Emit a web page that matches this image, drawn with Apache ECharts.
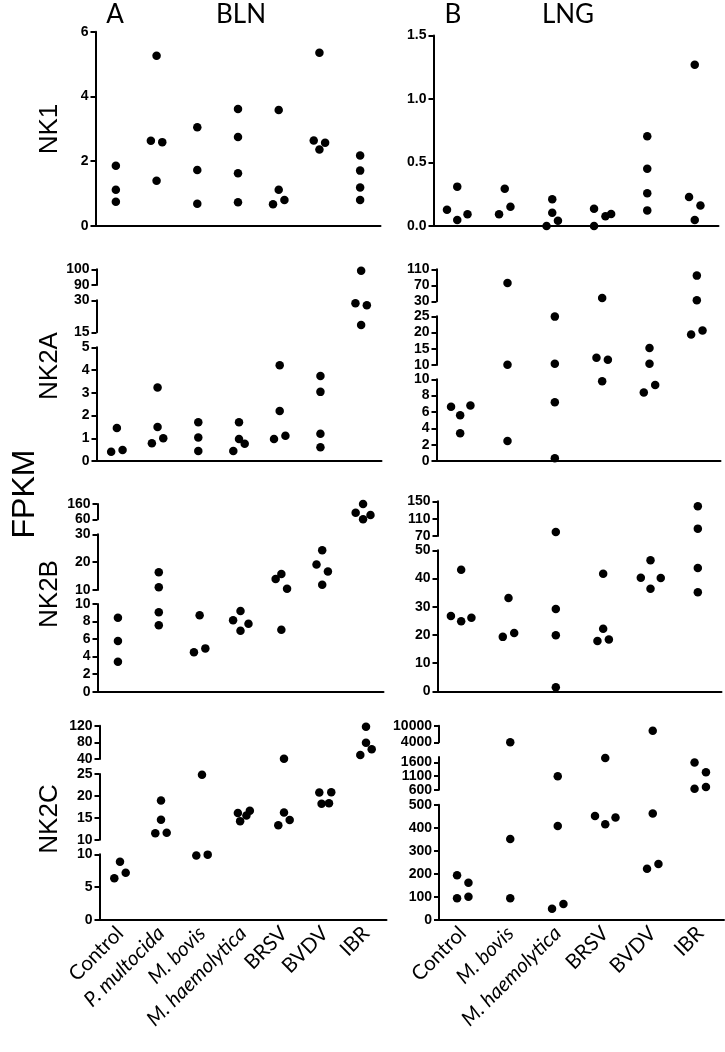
<!DOCTYPE html>
<html>
<head>
<meta charset="utf-8">
<script src="https://cdn.jsdelivr.net/npm/echarts@6/dist/echarts.min.js"></script>
<style>
  html, body { margin: 0; padding: 0; background: #fff; }
  #chart { width: 725px; height: 1052px; }
</style>
</head>
<body>
<div id="chart"></div>
<script>
// categories
const blnCats = ['Control', 'P. multocida', 'M. bovis', 'M. haemolytica', 'BRSV', 'BVDV', 'IBR'];
const lngCats = ['Control', 'M. bovis', 'M. haemolytica', 'BRSV', 'BVDV', 'IBR'];
const italicCats = ['P. multocida', 'M. bovis', 'M. haemolytica'];
const geneNames = ['NK1', 'NK2A', 'NK2B', 'NK2C'];

// values per category, lanes = side-by-side spread of dots (Prism scatter)
const nk1BlnVals = [[1.86, 1.12, 0.75], [5.26, 2.63, 2.59, 1.40], [3.05, 1.73, 0.69], [3.61, 2.75, 1.63, 0.73], [3.58, 1.12, 0.67, 0.80], [5.35, 2.64, 2.36, 2.57], [2.18, 1.71, 1.19, 0.80]];
const nk1BlnLanes = [[0, 0, 0], [0, -1, 1, 0], [0, 0, 0], [0, 0, 0, 0], [0, 0, -1, 1], [0, -1, 0, 1], [0, 0, 0, 0]];
const nk1BlnRanges = [[0, 6]];
const nk1BlnTicks = [[0, 2, 4, 6]];

const nk1LngVals = [[0.128, 0.31, 0.047, 0.092], [0.092, 0.293, 0.152], [0.21, 0.105, 0.0, 0.042], [0.136, 0.0, 0.076, 0.094], [0.707, 0.45, 0.257, 0.123], [1.27, 0.228, 0.162, 0.047]];
const nk1LngLanes = [[-1.8, 0, 0, 1.8], [-1, 0, 1], [0, 0, -1, 1], [-1, -1, 1, 2], [0, 0, 0, 0], [0, -1, 1, 0]];
const nk1LngRanges = [[0, 1.5]];
const nk1LngTicks = [[0, 0.5, 1, 1.5]];

const nk2aBlnVals = [[0.41, 1.45, 0.48], [0.78, 3.23, 1.50, 1.0], [1.70, 1.03, 0.44], [0.44, 1.70, 0.97, 0.76], [4.21, 2.20, 0.97, 1.11], [3.74, 3.04, 1.20, 0.60], [99.1, 28.6, 27.7, 18.4]];
const nk2aBlnLanes = [[-1, 0, 1], [-1, 0, 0, 1], [0, 0, 0], [-1, 0, 0, 1], [0, 0, -1, 1], [0, 0, 0, 0], [0, -1, 1, 0]];
const nk2aBlnRanges = [[0, 5], [15, 30], [90, 100]];
const nk2aBlnTicks = [[0, 1, 2, 3, 4, 5], [15, 30], [90, 100]];

const nk2aLngVals = [[6.65, 5.59, 3.39, 6.78], [75.8, 10.1, 2.45], [24.9, 10.4, 7.18, 0.33], [38.3, 12.26, 11.64, 9.76], [15.2, 10.4, 8.37, 9.31], [94.2, 32.5, 19.4, 20.6]];
const nk2aLngLanes = [[-1.6, 0, 0, 1.8], [0, 0, 0], [0, 0, 0, 0], [0, -1, 1, 0], [0, 0, -1, 1], [0, 0, -1, 1]];
const nk2aLngRanges = [[0, 10], [10, 25], [30, 110]];
const nk2aLngTicks = [[0, 2, 4, 6, 8, 10], [10, 15, 20, 25], [30, 70, 110]];

const nk2bBlnVals = [[8.44, 5.78, 3.42], [16.35, 10.96, 9.05, 7.57], [8.71, 4.49, 4.94], [8.14, 9.2, 6.96, 7.76], [13.95, 15.75, 10.48, 7.07], [19.16, 24.3, 16.6, 11.9], [160, 103, 88, 60]];
const nk2bBlnLanes = [[0, 0, 0], [0, 0, 0, 0], [0, -1, 1], [-1.3, 0, 0, 1.4], [-1, 0, 1, 0], [-1, 0, 1, 0], [0, -1.3, 1.3, 0]];
const nk2bBlnRanges = [[0, 10], [10, 30], [60, 160]];
const nk2bBlnTicks = [[0, 2, 4, 6, 8, 10], [10, 20, 30], [60, 160]];

const nk2bLngVals = [[26.7, 43.1, 24.8, 26.1], [33.1, 19.3, 20.7], [79.2, 29.2, 19.9, 1.4], [41.7, 22.2, 17.8, 18.4], [46.5, 40.3, 40.2, 36.4], [138.5, 87, 43.7, 35.1]];
const nk2bLngLanes = [[-1.8, 0, 0, 1.8], [0, -1, 1], [0, 0, 0, 0], [0, 0, -1, 1], [0, -1.7, 1.8, 0], [0, 0, 0, 0]];
const nk2bLngRanges = [[0, 50], [70, 150]];
const nk2bLngTicks = [[0, 10, 20, 30, 40, 50], [70, 110, 150]];

const nk2cBlnVals = [[6.35, 8.88, 7.2], [18.93, 14.54, 11.45, 11.6], [24.85, 9.8, 9.95], [16.07, 14.24, 15.5, 16.6], [40.5, 16.2, 13.3, 14.5], [20.76, 20.84, 18.2, 18.3], [117.6, 79.2, 63.4, 49.7]];
const nk2cBlnLanes = [[-1, 0, 1], [0, 0, -1, 1], [0, -1, 1], [-0.9, -0.5, 0.6, 1.2], [0, 0, -1, 1], [-1, 1.1, -0.6, 0.7], [0, 0, 1, -1]];
const nk2cBlnRanges = [[0, 10], [10, 25], [40, 120]];
const nk2cBlnTicks = [[0, 5, 10], [10, 15, 20, 25], [40, 80, 120]];

const nk2cLngVals = [[193.6, 161.8, 94, 101], [4000, 351, 94], [1094, 407.5, 49, 69], [1760, 451, 415, 444], [8200, 462, 222.5, 243], [1600, 1242, 637, 699]];
const nk2cLngLanes = [[-1, 1, -1, 1], [0, 0, 0], [0, 0, -1, 1], [0, -1.8, 0, 1.8], [0, 0, -1, 1], [-1, 1, -1, 1]];
const nk2cLngRanges = [[0, 500], [600, 1800], [4000, 10000]];
const nk2cLngTicks = [[0, 100, 200, 300, 400, 500], [600, 1100, 1600], [4000, 10000]];

// panel layout: segments listed bottom -> top as [top, bottom] in px
const panels = [
  { col: 0, row: 0, vals: nk1BlnVals, lanes: nk1BlnLanes, ranges: nk1BlnRanges, ticks: nk1BlnTicks, left: 95.5, width: 285, segs: [[31.7, 226]] },
  { col: 1, row: 0, vals: nk1LngVals, lanes: nk1LngLanes, ranges: nk1LngRanges, ticks: nk1LngTicks, left: 433.5, width: 285, segs: [[35.5, 226]], dec: 1 },
  { col: 0, row: 1, vals: nk2aBlnVals, lanes: nk2aBlnLanes, ranges: nk2aBlnRanges, ticks: nk2aBlnTicks, left: 96.5, width: 285, segs: [[347.3, 461], [300.3, 332.3], [269.3, 285]] },
  { col: 1, row: 1, vals: nk2aLngVals, lanes: nk2aLngLanes, ranges: nk2aLngRanges, ticks: nk2aLngTicks, left: 436.5, width: 284, segs: [[379.3, 461], [316.3, 365], [269.3, 301.3]] },
  { col: 0, row: 2, vals: nk2bBlnVals, lanes: nk2bBlnLanes, ranges: nk2bBlnRanges, ticks: nk2bBlnTicks, left: 97.5, width: 286, segs: [[604, 691.7], [534.3, 590], [504, 519.3]] },
  { col: 1, row: 2, vals: nk2bLngVals, lanes: nk2bLngLanes, ranges: nk2bLngRanges, ticks: nk2bLngTicks, left: 437.5, width: 284, segs: [[550.3, 691.3], [501.3, 536]] },
  { col: 0, row: 3, vals: nk2cBlnVals, lanes: nk2cBlnLanes, ranges: nk2cBlnRanges, ticks: nk2cBlnTicks, left: 99.5, width: 287, segs: [[854.3, 920], [774, 839.7], [725.7, 759]] },
  { col: 1, row: 3, vals: nk2cLngVals, lanes: nk2cLngLanes, ranges: nk2cLngRanges, ticks: nk2cLngTicks, left: 439, width: 285, segs: [[804.7, 920], [757, 789.7], [725.7, 742.3]] }
];

const LANE_PX = 5.7;
const tickFont = { color: '#000', fontFamily: 'Liberation Sans', fontWeight: 'bold', fontSize: 14 };
const line = { color: '#000', width: 2 };

// which segment a value belongs to (highest segment whose min it reaches)
function segOf(ranges, v) {
  for (let k = ranges.length - 1; k >= 0; k--) {
    if (v >= ranges[k][0]) return k;
  }
  return 0;
}

function makeY(gi, lo, hi, ticks, dec, showLine) {
  return {
    type: 'value', gridIndex: gi, min: lo, max: hi, position: 'left', offset: 0,
    axisLine: { show: showLine, onZero: false, lineStyle: line },
    axisTick: { show: true, length: 5, customValues: ticks, lineStyle: line },
    axisLabel: Object.assign({
      customValues: ticks, margin: 7,
      formatter: v => dec ? Number(v).toFixed(dec) : String(v)
    }, tickFont),
    splitLine: { show: false }
  };
}

const grid = [], xAxis = [], yAxis = [], series = [];

panels.forEach(p => {
  const cats = p.col === 0 ? blnCats : lngCats;
  const n = cats.length;
  const laneW = LANE_PX / (p.width / n);
  p.segs.forEach((s, k) => {
    const gi = grid.length;
    const isBottom = k === 0;
    const h = s[1] - s[0];
    grid.push({ left: p.left, width: p.width, top: s[0], height: h });
    xAxis.push({
      type: 'category', gridIndex: gi, data: cats, show: isBottom,
      axisLine: { onZero: false, lineStyle: line },
      axisTick: { alignWithLabel: true, length: 5, lineStyle: line },
      axisLabel: {
        show: isBottom && p.row === 3, interval: 0, rotate: 45, margin: 10,
        color: '#000', fontFamily: 'Lato', fontSize: 20.5,
        formatter: v => italicCats.includes(v) ? '{i|' + v + '}' : v,
        rich: { i: { fontStyle: 'italic', fontFamily: 'Lato', fontSize: 20.5, color: '#000' } }
      },
      splitLine: { show: false }
    });
    const xi = xAxis.length;
    xAxis.push({ type: 'value', gridIndex: gi, min: -0.5, max: n - 0.5, show: false });

    const [lo, hi] = p.ranges[k];
    const ticks = p.ticks[k];
    const spacing = h * (ticks[1] - ticks[0]) / (hi - lo);
    const yi = yAxis.length;
    if (ticks.length > 2 && spacing < 15) {
      // crowded segment: split labels over two overlaid axes so none get dropped
      yAxis.push(makeY(gi, lo, hi, ticks.filter((t, i) => i % 2 === 0), p.dec, true));
      yAxis.push(makeY(gi, lo, hi, ticks.filter((t, i) => i % 2 === 1), p.dec, false));
    } else {
      yAxis.push(makeY(gi, lo, hi, ticks, p.dec, true));
    }
    const pts = [];
    p.vals.forEach((g, i) => g.forEach((v, j) => {
      if (segOf(p.ranges, v) === k) pts.push([i + p.lanes[i][j] * laneW, v]);
    }));
    series.push({
      type: 'scatter', xAxisIndex: xi, yAxisIndex: yi, data: pts,
      symbolSize: 8.5, itemStyle: { color: '#000', opacity: 1 }, clip: false, silent: true
    });
  });
});

// headings and axis names
const rowCenters = [129, 366, 594, 819];
const graphic = [
  { type: 'text', x: 115, y: 15, style: { text: 'A', font: '26px Lato', fill: '#000', textAlign: 'center', textVerticalAlign: 'middle' } },
  { type: 'text', x: 241, y: 15, style: { text: 'BLN', font: '26px Lato', fill: '#000', textAlign: 'center', textVerticalAlign: 'middle' } },
  { type: 'text', x: 453, y: 15, style: { text: 'B', font: '26px Lato', fill: '#000', textAlign: 'center', textVerticalAlign: 'middle' } },
  { type: 'text', x: 568, y: 15, style: { text: 'LNG', font: '26px Lato', fill: '#000', textAlign: 'center', textVerticalAlign: 'middle' } },
  { type: 'text', x: 25, y: 494, rotation: Math.PI / 2, style: { text: 'FPKM', font: '32px "Liberation Sans"', fill: '#000', textAlign: 'center', textVerticalAlign: 'middle' } }
];
geneNames.forEach((g, r) => {
  graphic.push({ type: 'text', x: 50, y: rowCenters[r], rotation: Math.PI / 2,
    style: { text: g, font: '26px "Liberation Sans"', fill: '#000', textAlign: 'center', textVerticalAlign: 'middle' } });
});

const chart = echarts.init(document.getElementById('chart'), null, { renderer: 'canvas' });
chart.setOption({
  animation: false,
  backgroundColor: '#fff',
  grid, xAxis, yAxis, series, graphic
});
</script>
</body>
</html>
